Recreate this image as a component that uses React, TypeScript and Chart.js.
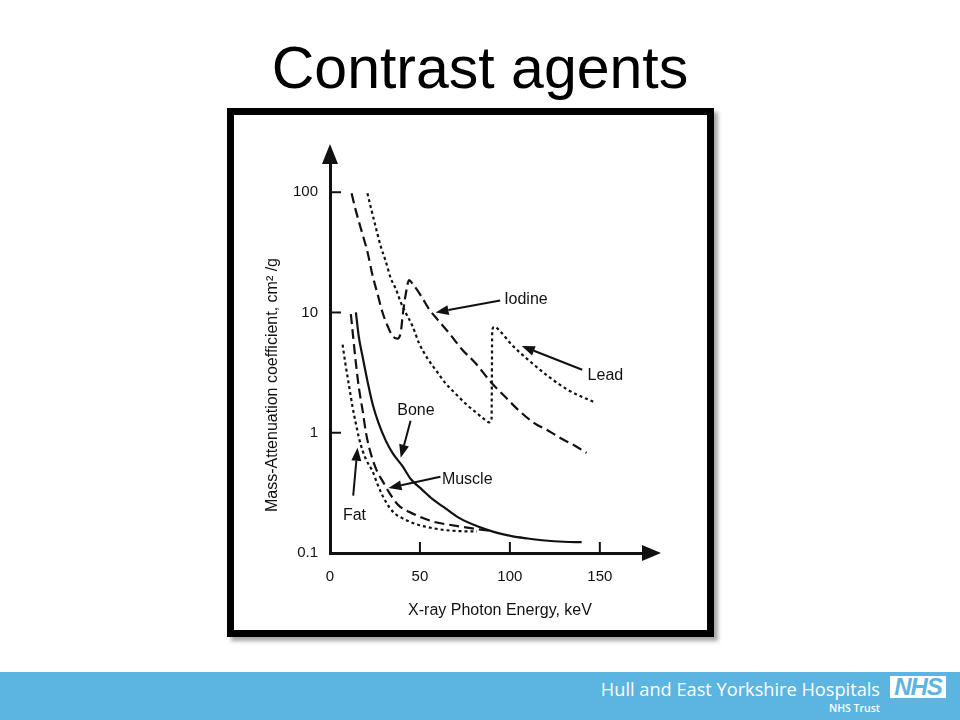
import React, { useEffect, useRef } from 'react';
import { Chart, registerables } from 'chart.js';

Chart.register(...registerables);

// ---------- data (keV, mass-attenuation coefficient cm²/g) ----------
const X_TICKS = [0, 50, 100, 150];
const Y_TICKS = [0.1, 1, 10, 100];
const X_MIN = 0;
const X_MAX = 174;
const Y_MIN = 0.1;
const Y_MAX = 175;

const IODINE_KEV = [12, 14.4, 18.1, 20.8, 23.6, 26.4, 29.2, 31.9, 34.7, 37.5, 39.3, 40.6, 42, 44, 45.8, 50.4, 55, 59.6, 66, 73.4, 80.8, 90, 97.4, 104.8, 114, 121.4, 128.8, 136.2, 142.6];
const IODINE_MU = [98, 70, 44.6, 32, 20.5, 14.3, 10, 7.8, 6.4, 6.07, 6.8, 10, 13.9, 18.6, 17.4, 13.9, 10.7, 8.8, 6.8, 4.93, 3.8, 2.58, 1.99, 1.54, 1.19, 1.04, 0.89, 0.78, 0.68];

const LEAD_KEV = [20.8, 22.7, 25.5, 28.2, 31, 33.8, 36.5, 39.3, 42, 45.8, 49.4, 54, 58.7, 64.2, 69.7, 75.3, 80.8, 85.4, 88.5, 89.8, 90.2, 91.5, 94.5, 101, 110, 121.4, 132.5, 146.3];
const LEAD_MU = [98, 74.7, 50.7, 35.5, 26.6, 19.2, 15.8, 12.2, 10, 7.76, 5.6, 4.19, 3.34, 2.58, 2.12, 1.75, 1.49, 1.31, 1.22, 1.3, 7.2, 7.6, 7.0, 5.4, 4.06, 2.94, 2.26, 1.81];

const BONE_KEV = [14.4, 16, 18.1, 20.8, 23.6, 27, 31, 35, 40.2, 45, 51.3, 57, 64.2, 72, 82.7, 91, 101, 110, 119.6, 130, 139.9];
const BONE_MU = [10, 6.3, 4.3, 2.7, 1.75, 1.2, 0.86, 0.67, 0.53, 0.41, 0.335, 0.28, 0.235, 0.195, 0.165, 0.15, 0.138, 0.132, 0.127, 0.124, 0.123];

const MUSCLE_KEV = [11.6, 13, 14.4, 16, 18.1, 20, 21.8, 24, 26.4, 29.5, 32.8, 38, 43.9, 50, 58.7, 66, 73.4, 82, 90];
const MUSCLE_MU = [9.7, 6, 3.8, 2.4, 1.54, 1.0, 0.75, 0.58, 0.47, 0.39, 0.32, 0.25, 0.22, 0.2, 0.18, 0.172, 0.165, 0.158, 0.152];

const FAT_KEV = [7, 8.5, 10.7, 12.5, 14.4, 16, 18.1, 20.5, 23.6, 26.5, 29.2, 33, 36.5, 40.2, 45, 51.3, 58, 64.2, 72, 81.7];
const FAT_MU = [5.4, 3.8, 2.4, 1.65, 1.19, 0.92, 0.71, 0.58, 0.48, 0.37, 0.3, 0.24, 0.21, 0.195, 0.18, 0.168, 0.16, 0.155, 0.152, 0.151];

// ---------- annotation labels and arrows (data coordinates) ----------
const NOTE_TEXT = ['Iodine', 'Lead', 'Bone', 'Muscle', 'Fat'];
const NOTE_ALIGN: CanvasTextAlign[] = ['left', 'left', 'center', 'left', 'center'];
const NOTE_KEV = [96.8, 143.2, 47.8, 62.2, 13.6];
const NOTE_MU = [12.7, 2.98, 1.54, 0.41, 0.205];
const ARROW_FROM_KEV = [94.6, 140.2, 44.8, 61.4, 12.9];
const ARROW_FROM_MU = [12.6, 3.34, 1.26, 0.43, 0.3];
const ARROW_TO_KEV = [58.7, 106.6, 39.3, 32.5, 15.3];
const ARROW_TO_MU = [10, 5.26, 0.62, 0.347, 0.75];

const X_TITLE = 'X-ray Photon Energy, keV';
const Y_TITLE = 'Mass-Attenuation coefficient, cm\u00B2 /g';

const INK = '#111111';
const FONT = '"Liberation Sans", Arial, Helvetica, sans-serif';

const toPoints = (xs: number[], ys: number[]) => xs.map((x, i) => ({ x, y: ys[i] }));

const overlayPlugin = {
  id: 'overlay',
  afterDraw(chart: any) {
    const { ctx, chartArea: a } = chart;
    const xs = chart.scales.x;
    const ys = chart.scales.y;
    ctx.save();
    ctx.strokeStyle = INK;
    ctx.fillStyle = INK;
    ctx.lineWidth = 2;
    ctx.setLineDash([]);

    // inward tick marks
    ys.ticks.forEach((t: any) => {
      if (t.value === Y_MIN) return;
      const py = ys.getPixelForValue(t.value);
      ctx.beginPath();
      ctx.moveTo(a.left, py);
      ctx.lineTo(a.left + 11, py);
      ctx.stroke();
    });
    xs.ticks.forEach((t: any) => {
      if (t.value === X_MIN) return;
      const px = xs.getPixelForValue(t.value);
      ctx.beginPath();
      ctx.moveTo(px, a.bottom);
      ctx.lineTo(px, a.bottom - 11);
      ctx.stroke();
    });

    // axis arrowheads
    ctx.beginPath();
    ctx.moveTo(a.left, a.top - 19);
    ctx.lineTo(a.left - 8, a.top + 1);
    ctx.lineTo(a.left + 8, a.top + 1);
    ctx.closePath();
    ctx.fill();
    ctx.beginPath();
    ctx.moveTo(a.right + 18, a.bottom);
    ctx.lineTo(a.right - 1, a.bottom - 8);
    ctx.lineTo(a.right - 1, a.bottom + 8);
    ctx.closePath();
    ctx.fill();

    // annotation arrows
    NOTE_TEXT.forEach((_, i) => {
      const x0 = xs.getPixelForValue(ARROW_FROM_KEV[i]);
      const y0 = ys.getPixelForValue(ARROW_FROM_MU[i]);
      const x1 = xs.getPixelForValue(ARROW_TO_KEV[i]);
      const y1 = ys.getPixelForValue(ARROW_TO_MU[i]);
      const ang = Math.atan2(y1 - y0, x1 - x0);
      const hl = 13;
      const hw = 5;
      const bx = x1 - hl * Math.cos(ang);
      const by = y1 - hl * Math.sin(ang);
      ctx.lineWidth = 2;
      ctx.beginPath();
      ctx.moveTo(x0, y0);
      ctx.lineTo(bx, by);
      ctx.stroke();
      ctx.beginPath();
      ctx.moveTo(x1, y1);
      ctx.lineTo(bx + hw * Math.sin(ang), by - hw * Math.cos(ang));
      ctx.lineTo(bx - hw * Math.sin(ang), by + hw * Math.cos(ang));
      ctx.closePath();
      ctx.fill();
    });

    // annotation labels
    ctx.font = `16px ${FONT}`;
    ctx.textBaseline = 'middle';
    NOTE_TEXT.forEach((txt, i) => {
      ctx.textAlign = NOTE_ALIGN[i];
      ctx.fillText(txt, xs.getPixelForValue(NOTE_KEV[i]), ys.getPixelForValue(NOTE_MU[i]));
    });

    // axis titles
    ctx.font = `16px ${FONT}`;
    ctx.textAlign = 'center';
    ctx.fillText(X_TITLE, a.left + 170, a.bottom + 58);
    ctx.save();
    ctx.translate(a.left - 57, a.top + 222);
    ctx.rotate(-Math.PI / 2);
    ctx.font = `16px ${FONT}`;
    ctx.fillText(Y_TITLE, 0, 0);
    ctx.restore();

    ctx.restore();
  },
};

function AttenuationChart() {
  const ref = useRef<HTMLCanvasElement | null>(null);
  useEffect(() => {
    if (!ref.current) return;
    const common = { pointRadius: 0, borderColor: INK, borderWidth: 2.2, cubicInterpolationMode: 'monotone' as const, fill: false };
    const chart = new Chart(ref.current, {
      type: 'line',
      data: {
        datasets: [
          { label: 'Iodine', data: toPoints(IODINE_KEV, IODINE_MU), borderDash: [10, 5], ...common },
          { label: 'Lead', data: toPoints(LEAD_KEV, LEAD_MU), borderDash: [3, 3], ...common },
          { label: 'Bone', data: toPoints(BONE_KEV, BONE_MU), ...common },
          { label: 'Muscle', data: toPoints(MUSCLE_KEV, MUSCLE_MU), borderDash: [10, 5], ...common },
          { label: 'Fat', data: toPoints(FAT_KEV, FAT_MU), borderDash: [3, 3], ...common },
        ],
      },
      options: {
        animation: false,
        responsive: false,
        maintainAspectRatio: false,
        layout: { padding: { top: 48, right: 64, left: 0, bottom: 0 } },
        plugins: { legend: { display: false }, tooltip: { enabled: false }, title: { display: false } },
        scales: {
          x: {
            type: 'linear',
            min: X_MIN,
            max: X_MAX,
            grid: { display: false, drawTicks: false },
            border: { display: true, width: 3, color: INK },
            ticks: { font: { size: 15, family: FONT }, color: INK, padding: 15, maxRotation: 0, callback: (v: any) => String(v) },
            afterBuildTicks: (s: any) => { s.ticks = X_TICKS.map((v) => ({ value: v })); },
            afterFit: (s: any) => { s.height = 77; },
          },
          y: {
            type: 'logarithmic',
            min: Y_MIN,
            max: Y_MAX,
            grid: { display: false, drawTicks: false },
            border: { display: true, width: 3, color: INK },
            ticks: { font: { size: 15, family: FONT }, color: INK, padding: 12, callback: (v: any) => String(v) },
            afterBuildTicks: (s: any) => { s.ticks = Y_TICKS.map((v) => ({ value: v })); },
            afterFit: (s: any) => { s.width = 96; },
          },
        },
      },
      plugins: [overlayPlugin],
    } as any);
    return () => chart.destroy();
  }, []);
  return <canvas ref={ref} width={473} height={515} style={{ position: 'absolute', left: 234, top: 115, display: 'block' }} />;
}

export default function App() {
  return (
    <div style={{ position: 'absolute', left: 0, top: 0, width: 960, height: 720, background: '#ffffff', overflow: 'hidden', fontFamily: FONT }}>
      <div style={{ position: 'absolute', left: 0, top: 39, width: 960, textAlign: 'center', fontSize: 59, lineHeight: '58px', color: '#000' }}>
        Contrast agents
      </div>
      <div
        style={{
          position: 'absolute', left: 227, top: 108, width: 487, height: 529, boxSizing: 'border-box',
          border: '7px solid #000', background: '#fff', boxShadow: '4px 4px 4px rgba(0,0,0,0.35)',
        }}
      />
      <AttenuationChart />
      <div style={{ position: 'absolute', left: 0, top: 672, width: 960, height: 48, background: '#5bb5e0' }} />
      <div style={{ position: 'absolute', right: 80, top: 677, color: '#fff', fontFamily: '"Open Sans", "Noto Sans", sans-serif', fontSize: 18.2, lineHeight: '24px', whiteSpace: 'nowrap' }}>
        Hull and East Yorkshire Hospitals
      </div>
      <div style={{ position: 'absolute', right: 80, top: 701, color: '#fff', fontFamily: '"Open Sans", "Noto Sans", sans-serif', fontSize: 10.5, fontWeight: 600, lineHeight: '14px', whiteSpace: 'nowrap' }}>
        NHS Trust
      </div>
      <div style={{ position: 'absolute', left: 890, top: 676, width: 56, height: 22, background: '#fff', color: '#5bb5e0', fontFamily: FONT, fontWeight: 'bold', fontStyle: 'italic', fontSize: 24, lineHeight: '22px', textAlign: 'center', letterSpacing: -1, overflow: 'hidden' }}>
        NHS
      </div>
    </div>
  );
}
